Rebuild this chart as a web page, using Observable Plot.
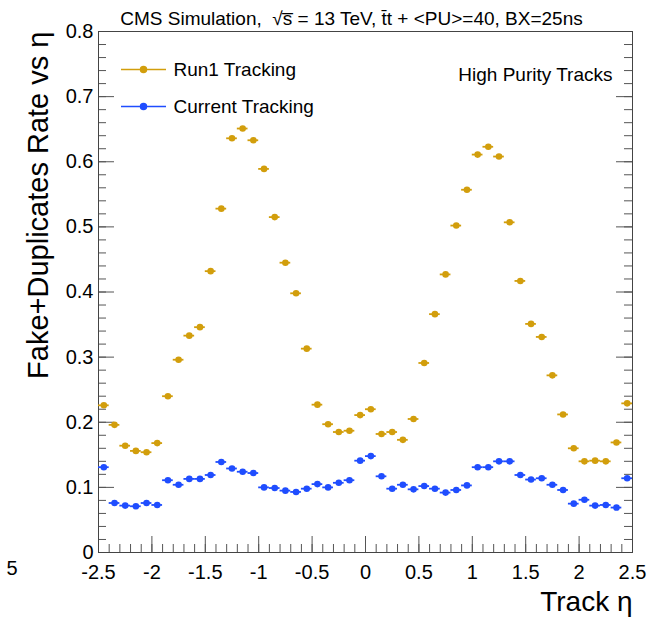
<!DOCTYPE html>
<html>
<head>
<meta charset="utf-8">
<script src="https://cdn.jsdelivr.net/npm/d3@7"></script>
<script src="https://cdn.jsdelivr.net/npm/@observablehq/plot@0.6"></script>
<style>
  html, body { margin: 0; padding: 0; background: #fff; }
  svg { display: block; }
</style>
</head>
<body>
<div id="chart"></div>
<script>
// ---- data ----
const etaCenters = [-2.45,-2.35,-2.25,-2.15,-2.05,-1.95,-1.85,-1.75,-1.65,-1.55,
  -1.45,-1.35,-1.25,-1.15,-1.05,-0.95,-0.85,-0.75,-0.65,-0.55,
  -0.45,-0.35,-0.25,-0.15,-0.05,0.05,0.15,0.25,0.35,0.45,
  0.55,0.65,0.75,0.85,0.95,1.05,1.15,1.25,1.35,1.45,
  1.55,1.65,1.75,1.85,1.95,2.05,2.15,2.25,2.35,2.45];
const binHalfWidth = 0.05;
const run1Rate = [0.226,0.196,0.164,0.156,0.154,0.168,0.240,0.296,0.333,0.346,
  0.432,0.528,0.636,0.651,0.633,0.589,0.515,0.445,0.398,0.313,
  0.227,0.197,0.185,0.187,0.211,0.220,0.182,0.185,0.173,0.205,
  0.291,0.366,0.427,0.502,0.557,0.611,0.623,0.608,0.507,0.417,
  0.351,0.331,0.272,0.212,0.160,0.140,0.141,0.140,0.169,0.229];
const currentRate = [0.131,0.076,0.072,0.071,0.076,0.073,0.111,0.104,0.113,0.113,
  0.119,0.139,0.129,0.124,0.122,0.100,0.099,0.095,0.093,0.098,
  0.105,0.100,0.107,0.111,0.141,0.148,0.117,0.098,0.104,0.097,
  0.102,0.098,0.092,0.096,0.103,0.131,0.131,0.140,0.140,0.119,
  0.112,0.114,0.104,0.096,0.075,0.081,0.072,0.073,0.069,0.114];
const seriesNames = ["Run1 Tracking", "Current Tracking"];
const seriesColors = ["#d29e0c", "#1f4dff"];
const xMajorTicks = [-2.5,-2,-1.5,-1,-0.5,0,0.5,1,1.5,2,2.5];
const yMajorTicks = [0,0.1,0.2,0.3,0.4,0.5,0.6,0.7,0.8];
const xMinorTicks = d3.range(-25, 26).map(i => i / 10);
const yMinorTicks = d3.range(0, 41).map(i => i / 50);
const titleText = "CMS Simulation,  \u221As\u0305 = 13 TeV, t\u0304t + <PU>=40, BX=25ns";
const yTitle = "Fake+Duplicates Rate vs \u03B7";
const xTitle = "Track \u03B7";
const boxLabel = "High Purity Tracks";

// ---- layout ----
const W = 652, H = 617;
const mL = 98, mR = 20, mT = 31, mB = 65;
const fW = W - mL - mR, fH = H - mT - mB;
const FONT = "'Liberation Sans', Arial, Helvetica, sans-serif";

const rows = [];
etaCenters.forEach((e, i) => {
  rows.push({eta: e, lo: e - binHalfWidth, hi: e + binHalfWidth, rate: run1Rate[i], series: seriesNames[0]});
  rows.push({eta: e, lo: e - binHalfWidth, hi: e + binHalfWidth, rate: currentRate[i], series: seriesNames[1]});
});

// legend symbol: short line with a dot in the middle
const legendSymbol = {
  draw(ctx) {
    ctx.moveTo(-22.5, 0); ctx.lineTo(22.5, 0);
    ctx.moveTo(3, 0); ctx.arc(0, 0, 3, 0, 2 * Math.PI);
  }
};

const legendMarks = seriesNames.flatMap((s, i) => [
  Plot.dot([s], {frameAnchor: "top-left", dx: 45, dy: 38 + 37 * i, fill: seriesColors[i], stroke: seriesColors[i], strokeWidth: 1.5, symbol: legendSymbol, r: 3}),
  Plot.text([s], {frameAnchor: "top-left", dx: 75, dy: 38 + 37 * i, textAnchor: "start", lineAnchor: "middle", fontSize: 19, text: d => d})
]);

const tickStyle = {stroke: "#555", strokeWidth: 1};

const plot = Plot.plot({
  width: W, height: H,
  marginLeft: mL, marginRight: mR, marginTop: mT, marginBottom: mB,
  style: {fontFamily: FONT, background: "#fff", color: "#000"},
  x: {domain: [-2.5, 2.5]},
  y: {domain: [0, 0.8]},
  color: {domain: seriesNames, range: seriesColors},
  marks: [
    // ticks (inside the frame): bottom, left, right
    Plot.ruleX(xMinorTicks, {x: d => d, insetTop: fH - 8, ...tickStyle}),
    Plot.ruleX(xMajorTicks, {x: d => d, insetTop: fH - 16, ...tickStyle}),
    Plot.ruleY(yMinorTicks, {y: d => d, insetRight: fW - 8, ...tickStyle}),
    Plot.ruleY(yMajorTicks, {y: d => d, insetRight: fW - 16, ...tickStyle}),
    Plot.ruleY(yMinorTicks, {y: d => d, insetLeft: fW - 8, ...tickStyle}),
    Plot.ruleY(yMajorTicks, {y: d => d, insetLeft: fW - 16, ...tickStyle}),
    Plot.frame({stroke: "#444", strokeWidth: 1}),
    Plot.axisX(xMajorTicks, {tickSize: 0, tickPadding: 12, fontSize: 20, tickFormat: d => String(d), label: null}),
    Plot.axisY(yMajorTicks, {tickSize: 0, tickPadding: 5, fontSize: 20, tickFormat: d => String(d), label: null}),
    // data: horizontal bin-width bars and markers
    Plot.ruleY(rows, {y: "rate", x1: "lo", x2: "hi", stroke: "series", strokeWidth: 1.8}),
    Plot.dot(rows, {x: "eta", y: "rate", fill: "series", r: 3.3, stroke: "none"}),
    ...legendMarks,
    // titles
    Plot.text([titleText], {frameAnchor: "top", dx: -14, dy: -13, fontSize: 19, text: d => d, lineAnchor: "middle"}),
    Plot.text([yTitle], {frameAnchor: "top-left", dx: -60, dy: 0, rotate: -90, textAnchor: "end", lineAnchor: "middle", fontSize: 29, text: d => d}),
    Plot.text([xTitle], {frameAnchor: "bottom-right", dy: 50, textAnchor: "end", lineAnchor: "middle", fontSize: 28, text: d => d}),
    Plot.text([boxLabel], {frameAnchor: "top-right", dx: -20, dy: 43, textAnchor: "end", lineAnchor: "middle", fontSize: 19, text: d => d}),
    Plot.text(["5"], {frameAnchor: "bottom-left", dx: -92, dy: 16, lineAnchor: "middle", fontSize: 20, text: d => d})
  ]
});
document.getElementById("chart").appendChild(plot);
</script>
</body>
</html>
